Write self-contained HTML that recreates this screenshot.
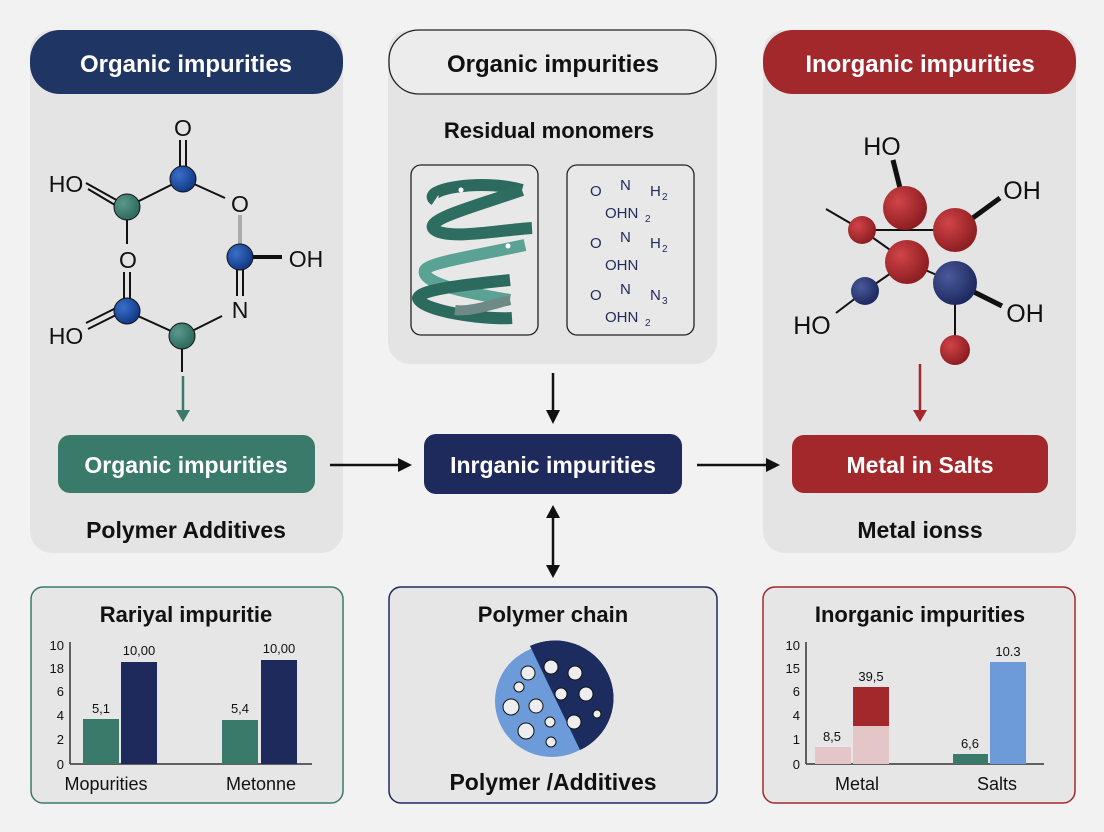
<!DOCTYPE html>
<html><head><meta charset="utf-8"><style>
body{margin:0;background:#f2f2f2}
svg{display:block}
text{font-family:"Liberation Sans",sans-serif}
</style></head><body>
<svg width="1104" height="832" viewBox="0 0 1104 832" xmlns="http://www.w3.org/2000/svg">
<defs>
<marker id="ab" markerWidth="8" markerHeight="8" refX="6" refY="4" orient="auto-start-reverse" markerUnits="userSpaceOnUse"><path d="M0,0 L0,0"/></marker>
<radialGradient id="gr" cx="35%" cy="35%" r="65%"><stop offset="0" stop-color="#d04448"/><stop offset="1" stop-color="#8f1e22"/></radialGradient>
<radialGradient id="gn" cx="35%" cy="35%" r="65%"><stop offset="0" stop-color="#4a5a9a"/><stop offset="1" stop-color="#1e2a60"/></radialGradient>
<radialGradient id="gb" cx="35%" cy="35%" r="65%"><stop offset="0" stop-color="#3a70c8"/><stop offset="1" stop-color="#123a88"/></radialGradient>
<radialGradient id="gt" cx="35%" cy="35%" r="65%"><stop offset="0" stop-color="#5a9a8c"/><stop offset="1" stop-color="#2e6a5e"/></radialGradient>
</defs>
<rect width="1104" height="832" fill="#f2f2f2"/>
<!-- top panels -->
<rect x="30" y="30" width="313" height="523" rx="22" fill="#e4e4e4"/>
<rect x="388" y="30" width="329" height="334" rx="22" fill="#e4e4e4"/>
<rect x="763" y="30" width="313" height="523" rx="22" fill="#e4e4e4"/>
<rect x="30" y="30" width="313" height="64" rx="30" fill="#1f3563"/>
<text x="186" y="72" text-anchor="middle" font-size="24" font-weight="bold" fill="#fff">Organic impurities</text>
<rect x="389" y="30" width="327" height="64" rx="30" fill="#ececec" stroke="#222" stroke-width="1.3"/>
<text x="553" y="72" text-anchor="middle" font-size="24" font-weight="bold" fill="#111">Organic impurities</text>
<rect x="763" y="30" width="313" height="64" rx="30" fill="#a3282b"/>
<text x="920" y="72" text-anchor="middle" font-size="24" font-weight="bold" fill="#fff">Inorganic impurities</text>
<text x="549" y="138" text-anchor="middle" font-size="22" font-weight="bold" fill="#111">Residual monomers</text>

<!-- left molecule -->
<g stroke="#111" stroke-width="2" fill="none">
<line x1="183" y1="179" x2="127" y2="207"/><line x1="183" y1="179" x2="225" y2="198"/>
<line x1="180" y1="140" x2="180" y2="168"/><line x1="186" y1="140" x2="186" y2="168"/>
<line x1="86" y1="183" x2="120" y2="202"/><line x1="88" y1="189" x2="120" y2="208"/>
<line x1="127" y1="218" x2="127" y2="244"/>
<line x1="124" y1="272" x2="124" y2="300"/><line x1="130" y1="272" x2="130" y2="300"/>
<line x1="88" y1="329" x2="120" y2="313"/><line x1="86" y1="323" x2="118" y2="307"/>
<line x1="127" y1="311" x2="182" y2="336"/><line x1="182" y1="336" x2="222" y2="316"/>
<line x1="237" y1="268" x2="237" y2="296"/><line x1="243" y1="268" x2="243" y2="296"/>
<line x1="240" y1="215" x2="240" y2="245" stroke="#aaa" stroke-width="4"/>
<line x1="250" y1="257" x2="282" y2="257" stroke-width="4"/>
<line x1="182" y1="348" x2="182" y2="372"/>
</g>
<circle cx="183" cy="179" r="13" fill="url(#gb)" stroke="#111"/>
<circle cx="127" cy="207" r="13" fill="url(#gt)" stroke="#111"/>
<circle cx="240" cy="257" r="13" fill="url(#gb)" stroke="#111"/>
<circle cx="127" cy="311" r="13" fill="url(#gb)" stroke="#111"/>
<circle cx="182" cy="336" r="13" fill="url(#gt)" stroke="#111"/>
<g font-size="23" fill="#111" text-anchor="middle">
<text x="183" y="136">O</text><text x="66" y="192">HO</text><text x="240" y="212">O</text>
<text x="128" y="268">O</text><text x="306" y="267">OH</text><text x="240" y="318">N</text><text x="66" y="344">HO</text>
</g>
<line x1="183" y1="376" x2="183" y2="410" stroke="#3a7a6a" stroke-width="2.5"/>
<path d="M176,410 L190,410 L183,422 Z" fill="#3a7a6a"/>

<!-- middle boxes -->
<rect x="411" y="165" width="127" height="170" rx="10" fill="#e8e8e8" stroke="#222" stroke-width="1.3"/>
<rect x="567" y="165" width="127" height="170" rx="10" fill="#e8e8e8" stroke="#222" stroke-width="1.3"/>
<g fill="none" stroke-linecap="butt">
<path d="M435,200 C420,190 480,178 522,190" stroke="#2d6a5e" stroke-width="12"/>
<path d="M522,190 C480,205 420,220 435,230 C450,240 500,230 532,228" stroke="#2d6e60" stroke-width="12"/>
<path d="M525,245 C480,255 430,262 425,270 C420,285 480,295 510,300" stroke="#5aa294" stroke-width="12"/>
<path d="M510,280 C460,285 420,290 418,298 C420,310 480,320 512,318" stroke="#2d6a5e" stroke-width="12"/>
<path d="M510,300 C490,305 470,312 455,310" stroke="#6f8a86" stroke-width="10"/>
</g>
<circle cx="461" cy="190" r="2.5" fill="#fff"/><circle cx="508" cy="246" r="2.5" fill="#fff"/>
<g fill="#1f2a5a" font-size="15">
<text x="590" y="196">O</text><text x="620" y="190">N</text><text x="650" y="196">H</text><text x="662" y="200" font-size="10">2</text>
<text x="605" y="218">OHN</text><text x="645" y="222" font-size="10">2</text>
<text x="590" y="248">O</text><text x="620" y="242">N</text><text x="650" y="248">H</text><text x="662" y="252" font-size="10">2</text>
<text x="605" y="270">OHN</text>
<text x="590" y="300">O</text><text x="620" y="294">N</text><text x="650" y="300">N</text><text x="662" y="304" font-size="10">3</text>
<text x="605" y="322">OHN</text><text x="645" y="326" font-size="10">2</text>
</g>

<!-- right molecule -->
<g stroke="#111" stroke-width="2">
<line x1="826" y1="209" x2="862" y2="230"/>
<line x1="862" y1="230" x2="955" y2="230"/>
<line x1="862" y1="230" x2="907" y2="262"/>
<line x1="907" y1="262" x2="955" y2="283"/>
<line x1="907" y1="262" x2="865" y2="291"/>
<line x1="865" y1="291" x2="836" y2="313"/>
<line x1="955" y1="283" x2="955" y2="350"/>
<line x1="893" y1="160" x2="902" y2="196" stroke-width="5"/>
<line x1="970" y1="220" x2="1000" y2="198" stroke-width="5"/>
<line x1="970" y1="290" x2="1002" y2="306" stroke-width="5"/>
</g>
<circle cx="862" cy="230" r="14" fill="url(#gr)"/>
<circle cx="905" cy="208" r="22" fill="url(#gr)"/>
<circle cx="955" cy="230" r="22" fill="url(#gr)"/>
<circle cx="907" cy="262" r="22" fill="url(#gr)"/>
<circle cx="955" cy="283" r="22" fill="url(#gn)"/>
<circle cx="865" cy="291" r="14" fill="url(#gn)"/>
<circle cx="955" cy="350" r="15" fill="url(#gr)"/>
<g font-size="25" fill="#111" text-anchor="middle">
<text x="882" y="155">HO</text><text x="1022" y="199">OH</text><text x="1025" y="322">OH</text><text x="812" y="334">HO</text>
</g>
<line x1="920" y1="364" x2="920" y2="410" stroke="#a3282b" stroke-width="2.5"/>
<path d="M913,410 L927,410 L920,422 Z" fill="#a3282b"/>

<!-- middle row -->
<rect x="58" y="435" width="257" height="58" rx="12" fill="#3a7a6a"/>
<text x="186" y="473" text-anchor="middle" font-size="23" font-weight="bold" fill="#fff">Organic impurities</text>
<rect x="424" y="434" width="258" height="60" rx="12" fill="#1f2a5c"/>
<text x="553" y="473" text-anchor="middle" font-size="23" font-weight="bold" fill="#fff">Inrganic impurities</text>
<rect x="792" y="435" width="256" height="58" rx="12" fill="#a3282b"/>
<text x="920" y="473" text-anchor="middle" font-size="23" font-weight="bold" fill="#fff">Metal in Salts</text>
<text x="186" y="538" text-anchor="middle" font-size="23" font-weight="bold" fill="#111">Polymer Additives</text>
<text x="920" y="538" text-anchor="middle" font-size="23" font-weight="bold" fill="#111">Metal ionss</text>
<g stroke="#111" stroke-width="2.5">
<line x1="330" y1="465" x2="400" y2="465"/><line x1="697" y1="465" x2="768" y2="465"/>
<line x1="553" y1="373" x2="553" y2="412"/><line x1="553" y1="518" x2="553" y2="566"/>
</g>
<g fill="#111">
<path d="M398,458 L412,465 L398,472Z"/><path d="M766,458 L780,465 L766,472Z"/>
<path d="M546,410 L560,410 L553,424Z"/><path d="M546,518 L560,518 L553,505Z"/><path d="M546,565 L560,565 L553,578Z"/>
</g>

<!-- bottom panels -->
<rect x="31" y="587" width="312" height="216" rx="12" fill="#e6e6e6" stroke="#3a7a6a" stroke-width="1.5"/>
<rect x="389" y="587" width="328" height="216" rx="12" fill="#e6e6e6" stroke="#1f2a5c" stroke-width="1.5"/>
<rect x="763" y="587" width="312" height="216" rx="12" fill="#e6e6e6" stroke="#a3282b" stroke-width="1.5"/>
<text x="186" y="622" text-anchor="middle" font-size="22" font-weight="bold" fill="#111">Rariyal impuritie</text>
<text x="553" y="622" text-anchor="middle" font-size="22" font-weight="bold" fill="#111">Polymer chain</text>
<text x="920" y="622" text-anchor="middle" font-size="22" font-weight="bold" fill="#111">Inorganic impurities</text>
<text x="553" y="790" text-anchor="middle" font-size="23" font-weight="bold" fill="#111">Polymer /Additives</text>

<!-- left chart -->
<g font-size="13" fill="#111" text-anchor="end">
<text x="64" y="650">10</text><text x="64" y="673">18</text><text x="64" y="696">6</text><text x="64" y="720">4</text><text x="64" y="744">2</text><text x="64" y="769">0</text>
</g>
<line x1="70" y1="642" x2="70" y2="764" stroke="#333" stroke-width="1.5"/>
<line x1="70" y1="764" x2="312" y2="764" stroke="#333" stroke-width="1.5"/>
<rect x="83" y="719" width="36" height="45" fill="#3a7a6a"/><rect x="121" y="662" width="36" height="102" fill="#1f2a5c"/>
<rect x="222" y="720" width="36" height="44" fill="#3a7a6a"/><rect x="261" y="660" width="36" height="104" fill="#1f2a5c"/>
<g font-size="13" fill="#111" text-anchor="middle">
<text x="101" y="713">5,1</text><text x="139" y="655">10,00</text><text x="240" y="713">5,4</text><text x="279" y="653">10,00</text>
</g>
<text x="106" y="790" text-anchor="middle" font-size="18" fill="#111">Mopurities</text>
<text x="261" y="790" text-anchor="middle" font-size="18" fill="#111">Metonne</text>

<!-- middle circle -->
<ellipse cx="552" cy="701" rx="57" ry="56" fill="#6d9ad9"/>
<path d="M530,646 A57,56 0 0 1 580,750 Z" fill="#1c2c5e"/>
<path d="M530,646 A57,56 0 0 1 580,750 Q560,690 530,646Z" fill="#1c2c5e"/>
<g fill="#eee" stroke="#111" stroke-width="1">
<circle cx="528" cy="673" r="7"/><circle cx="519" cy="687" r="5"/><circle cx="511" cy="707" r="8"/><circle cx="536" cy="706" r="7"/><circle cx="550" cy="722" r="5"/><circle cx="526" cy="731" r="8"/><circle cx="551" cy="742" r="5"/>
<circle cx="551" cy="667" r="7"/><circle cx="575" cy="673" r="7"/><circle cx="561" cy="694" r="6"/><circle cx="586" cy="694" r="7"/><circle cx="597" cy="714" r="4"/><circle cx="574" cy="722" r="7"/>
</g>

<!-- right chart -->
<g font-size="13" fill="#111" text-anchor="end">
<text x="800" y="650">10</text><text x="800" y="673">15</text><text x="800" y="696">6</text><text x="800" y="720">4</text><text x="800" y="744">1</text><text x="800" y="769">0</text>
</g>
<line x1="806" y1="642" x2="806" y2="764" stroke="#333" stroke-width="1.5"/>
<line x1="806" y1="764" x2="1044" y2="764" stroke="#333" stroke-width="1.5"/>
<rect x="815" y="747" width="36" height="17" fill="#e4c6c8"/>
<rect x="853" y="726" width="36" height="38" fill="#e4c6c8"/><rect x="853" y="687" width="36" height="39" fill="#a3282b"/>
<rect x="953" y="754" width="35" height="10" fill="#3a7a6a"/>
<rect x="990" y="662" width="36" height="102" fill="#6d9ad9"/>
<g font-size="13" fill="#111" text-anchor="middle">
<text x="832" y="741">8,5</text><text x="871" y="681">39,5</text><text x="970" y="748">6,6</text><text x="1008" y="656">10.3</text>
</g>
<text x="857" y="790" text-anchor="middle" font-size="18" fill="#111">Metal</text>
<text x="997" y="790" text-anchor="middle" font-size="18" fill="#111">Salts</text>
</svg>
</body></html>
